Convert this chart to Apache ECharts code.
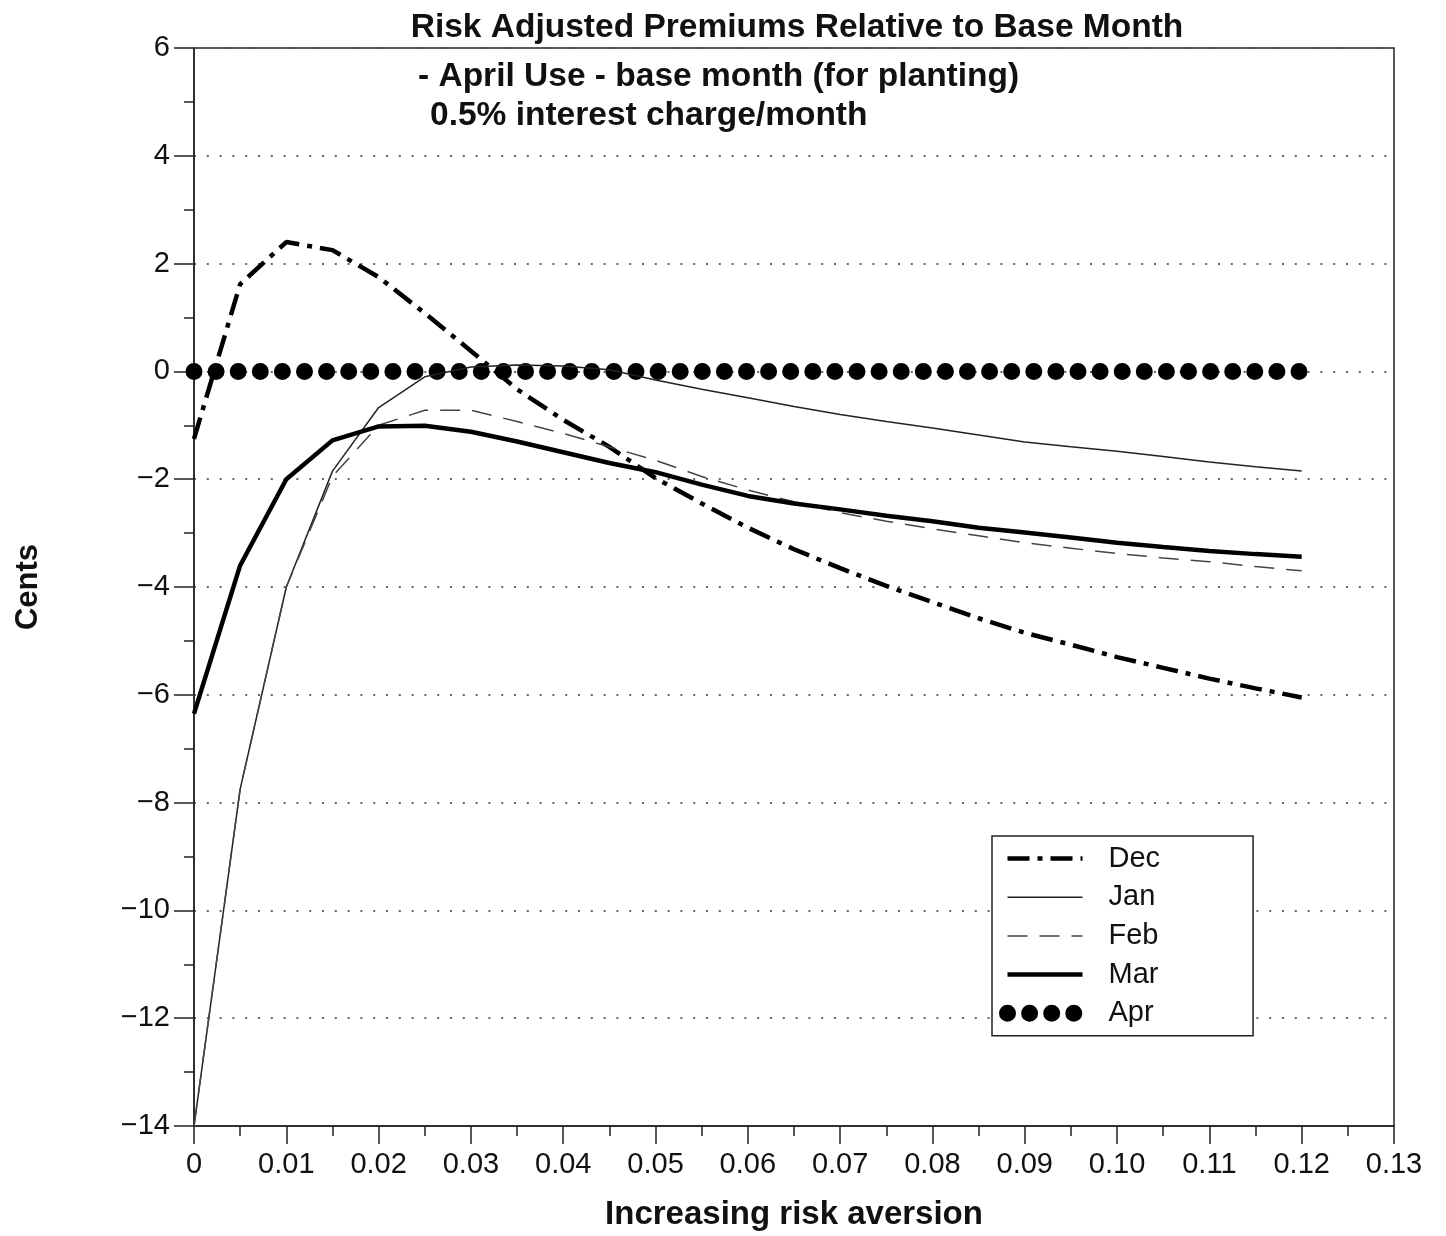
<!DOCTYPE html>
<html>
<head>
<meta charset="utf-8">
<script src="https://cdn.jsdelivr.net/npm/echarts@6/dist/echarts.min.js"></script>
<style>
  html, body { margin: 0; padding: 0; background: #fff; }
  #chart { width: 1446px; height: 1236px; }
</style>
</head>
<body>
<div id="chart"></div>
<script>
// risk aversion values (x axis)
const riskAversion = [0, 0.005, 0.01, 0.015, 0.02, 0.025, 0.03, 0.035, 0.04, 0.045, 0.05, 0.055, 0.06,
    0.065, 0.07, 0.075, 0.08, 0.085, 0.09, 0.095, 0.1, 0.105, 0.11, 0.115, 0.12];

// premiums in cents, one value per risk aversion level
const decValues = [-1.25, 1.62, 2.4, 2.25, 1.75, 1.08, 0.38, -0.33, -0.9, -1.4, -1.98, -2.45, -2.9,
    -3.3, -3.65, -3.98, -4.28, -4.58, -4.85, -5.07, -5.3, -5.5, -5.7, -5.88, -6.05];
const janValues = [-14, -7.75, -4.0, -1.85, -0.67, -0.1, 0.08, 0.12, 0.1, 0.03, -0.16, -0.33, -0.49,
    -0.65, -0.8, -0.93, -1.05, -1.18, -1.31, -1.4, -1.48, -1.58, -1.68, -1.77, -1.85];
const febValues = [-14, -7.75, -4.0, -1.95, -1.0, -0.72, -0.72, -0.93, -1.15, -1.4, -1.65, -1.95, -2.2,
    -2.42, -2.62, -2.78, -2.92, -3.05, -3.18, -3.28, -3.38, -3.46, -3.53, -3.62, -3.7];
const marValues = [-6.35, -3.6, -2.0, -1.28, -1.02, -1.01, -1.12, -1.3, -1.5, -1.7, -1.87, -2.1, -2.31,
    -2.45, -2.56, -2.68, -2.78, -2.9, -2.99, -3.08, -3.18, -3.26, -3.33, -3.39, -3.44];
const aprValues = [0, 0, 0, 0, 0, 0, 0, 0, 0, 0, 0, 0, 0, 0, 0, 0, 0, 0, 0, 0, 0, 0, 0, 0, 0];

const monthNames = ['Dec', 'Jan', 'Feb', 'Mar', 'Apr'];

const FONT = '"Liberation Sans", Arial, Helvetica, sans-serif';

// 各月份的线型
const lineStyles = {
    Dec: { color: '#000', width: 4.5, type: [22, 8, 5, 8] },
    Jan: { color: '#222', width: 1.5, type: 'solid' },
    Feb: { color: '#444', width: 1.5, type: [20, 12] },
    Mar: { color: '#000', width: 4.5, type: 'solid' },
    Apr: { color: '#000', width: 17, type: [0, 22.1], cap: 'round' }
};

// 把x和y拼成点
function toPoints(values) {
    return riskAversion.map((x, i) => [x, values[i]]);
}

function makeSeries(name, values, z) {
    return {
        name: name, type: 'line', symbol: 'none', z: z,
        data: toPoints(values),
        itemStyle: { color: '#000' },
        lineStyle: lineStyles[name]
    };
}

const chart = echarts.init(document.getElementById('chart'));

chart.setOption({
    backgroundColor: '#fff',
    animation: false,
    textStyle: { fontFamily: FONT, color: '#111' },
    title: [
        {
            text: 'Risk Adjusted Premiums Relative to Base Month',
            left: 792, top: 6, textAlign: 'center',
            textStyle: { fontSize: 33.5, fontWeight: 'bold', color: '#111', fontFamily: FONT }
        },
        {
            text: '- April Use - base month (for planting)',
            left: 413, top: 55,
            textStyle: { fontSize: 33.5, fontWeight: 'bold', color: '#111', fontFamily: FONT }
        },
        {
            text: '0.5% interest charge/month',
            left: 425, top: 94,
            textStyle: { fontSize: 33.5, fontWeight: 'bold', color: '#111', fontFamily: FONT }
        }
    ],
    grid: {
        left: 194, right: 52, top: 48, bottom: 110,
        show: true, borderColor: '#222', borderWidth: 1.5
    },
    legend: {
        orient: 'vertical',
        left: 992, top: 836,
        padding: [8, 93, 8, 7],
        itemWidth: 75, itemHeight: 28, itemGap: 9.7,
        borderColor: '#222', borderWidth: 1.5, backgroundColor: '#fff',
        itemStyle: { opacity: 0 },
        data: monthNames.map(name => ({ name: name, lineStyle: lineStyles[name] })),
        textStyle: { fontSize: 29, color: '#111', fontFamily: FONT, padding: [0, 0, 0, 21] }
    },
    xAxis: {
        type: 'value',
        min: 0, max: 0.13, interval: 0.01,
        name: 'Increasing risk aversion',
        nameLocation: 'middle', nameGap: 72,
        nameTextStyle: { fontSize: 33, fontWeight: 'bold', color: '#111', fontFamily: FONT },
        axisLine: { onZero: false, lineStyle: { color: '#222', width: 1.5 } },
        axisTick: { length: 18, lineStyle: { color: '#222', width: 1.5 } },
        minorTick: { show: true, splitNumber: 2, length: 10, lineStyle: { color: '#222', width: 1.5 } },
        axisLabel: {
            fontSize: 29, color: '#111', margin: 24,
            formatter: v => (v === 0 ? '0' : v.toFixed(2))
        },
        splitLine: { show: false }
    },
    yAxis: {
        type: 'value',
        min: -14, max: 6, interval: 2,
        name: 'Cents',
        nameLocation: 'middle', nameGap: 150,
        nameTextStyle: { fontSize: 31, fontWeight: 'bold', color: '#111', fontFamily: FONT },
        axisLine: { onZero: false, lineStyle: { color: '#222', width: 1.5 } },
        axisTick: { length: 20, lineStyle: { color: '#222', width: 1.5 } },
        minorTick: { show: true, splitNumber: 2, length: 10, lineStyle: { color: '#222', width: 1.5 } },
        axisLabel: {
            fontSize: 29, color: '#111', margin: 24,
            formatter: v => (v < 0 ? '\u2212' + Math.abs(v) : String(v))
        },
        splitLine: { show: true, lineStyle: { color: '#666', width: 2, type: [2, 10.8] } }
    },
    series: [
        makeSeries('Apr', aprValues, 1),
        makeSeries('Dec', decValues, 3),
        makeSeries('Jan', janValues, 3),
        makeSeries('Feb', febValues, 3),
        makeSeries('Mar', marValues, 3)
    ]
});
</script>
</body>
</html>
